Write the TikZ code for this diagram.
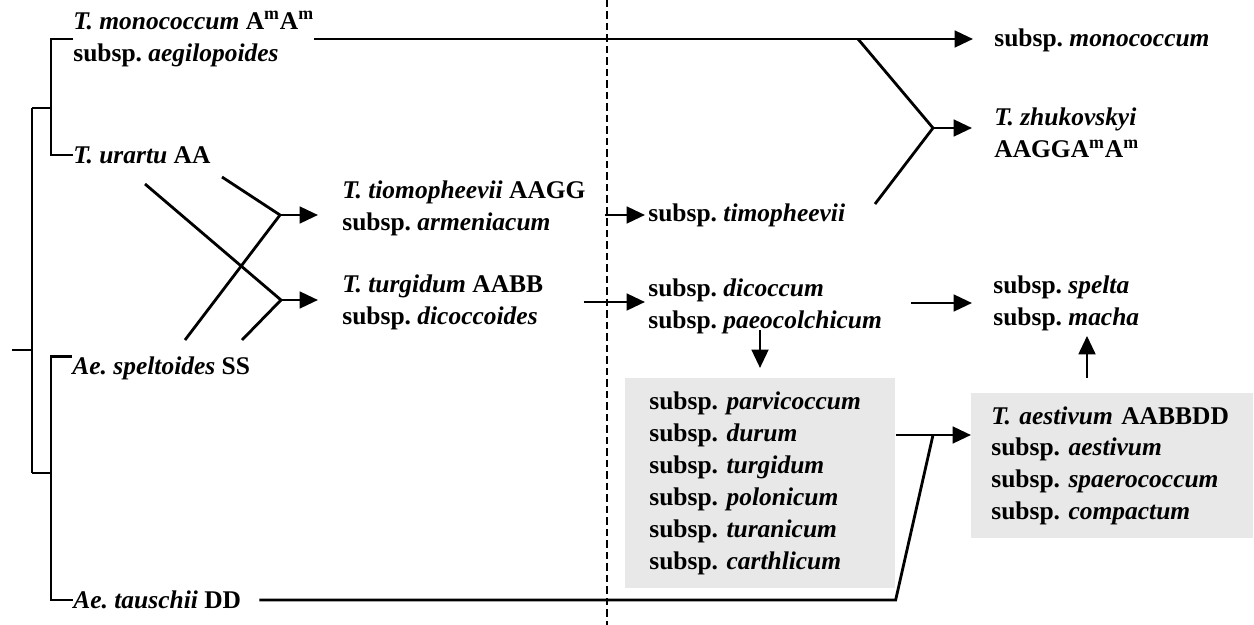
\documentclass[tikz,border=0pt]{standalone}
\usepackage{fontspec}
\setmainfont{Liberation Serif}
\usetikzlibrary{arrows.meta}
\tikzset{
  lbl/.style={anchor=west,inner sep=0pt,align=left,font=\fontsize{14.5}{18.2}\selectfont\bfseries\frenchspacing},
  ln/.style={line width=1.6pt},
  arr/.style={line width=1.6pt,-{Triangle[length=10.5pt,width=9.5pt]}},
  greybox/.style={lbl,anchor=north west,fill=black!9,inner ysep=0pt},
  divider/.style={line width=1.2pt,dash pattern=on 0.15cm off 0.08cm}
}
\begin{document}
\begin{tikzpicture}[x=0.02cm,y=-0.02cm]
\useasboundingbox (0,0) rectangle (1254,625);
\draw[divider] (607,0) -- (607,625);
\node[lbl] (mono) at (73,39) {\textit{T. monococcum} A\textsuperscript{m}A\textsuperscript{m}\\subsp. \textit{aegilopoides}};
\node[lbl] (urartu) at (73,155) {\textit{T. urartu} AA};
\node[lbl] (spelt) at (72,368) {\textit{Ae. speltoides} SS};
\node[lbl] (tausch) at (73,600) {\textit{Ae. tauschii} DD};
\node[lbl] (timo) at (342,208) {\textit{T. tiomopheevii} AAGG\\subsp. \textit{armeniacum}};
\node[lbl] (turg) at (342,302) {\textit{T. turgidum} AABB\\subsp. \textit{dicoccoides}};
\node[lbl] (timsub) at (648,215) {subsp. \textit{timopheevii}};
\node[lbl] (dicoc) at (648,306) {subsp. \textit{dicoccum}\\subsp. \textit{paeocolchicum}};
\node[lbl] (monosub) at (994,40) {subsp. \textit{monococcum}};
\node[lbl] (zhuk) at (994,133) {\textit{T. zhukovskyi}\\AAGGA\textsuperscript{m}A\textsuperscript{m}};
\node[lbl] (spelta) at (993,303) {subsp. \textit{spelta}\\subsp. \textit{macha}};
\node[greybox,text width=4.44cm,inner xsep=0.48cm,minimum height=4.2cm] (durum) at (625,378)
  {subsp. \textit{parvicoccum}\\subsp. \textit{durum}\\subsp. \textit{turgidum}\\subsp. \textit{polonicum}\\subsp. \textit{turanicum}\\subsp. \textit{carthlicum}};
\node[greybox,text width=4.84cm,inner xsep=0.4cm,minimum height=2.9cm] (aest) at (971,393)
  {\textit{T. aestivum} AABBDD\\subsp. \textit{aestivum}\\subsp. \textit{spaerococcum}\\subsp. \textit{compactum}};
\coordinate (root) at (12,350);
\coordinate (ua) at (51,108);
\coordinate (sd) at (51,473);
\draw[ln] (root) -- (32,350);
\draw[ln] (32,108) -- (32,473);
\draw[ln] (32,108) -- (ua);
\draw[ln] (32,473) -- (sd);
\draw[ln] (mono.west) -| (ua) |- (urartu.west);
\draw[ln] (spelt.north west) -| (sd) |- (tausch.west);
\coordinate (jt) at (280,215);
\coordinate (jd) at (281,300);
\coordinate (u1) at (145,184);
\coordinate (u2) at (222,177);
\coordinate (s1) at (185,340);
\coordinate (s2) at (242,340);
\draw[ln] (u1) -- (jd);
\draw[ln] (u2) -- (jt);
\draw[ln] (s1) -- (jt);
\draw[ln] (s2) -- (jd);
\draw[arr,shorten >=0.48cm] (jt) -- (jt -| timo.west);
\draw[arr,shorten >=0.48cm] (jd) -- (jd -| turg.west);
\draw[arr,shorten >=0.42cm] (mono.east) -- (mono.east -| monosub.west);
\coordinate (br) at (858,39);
\coordinate (jz) at (933,128);
\coordinate (zl) at (875,204);
\draw[ln] (br) -- (jz) -- (zl);
\draw[arr,shorten >=0.44cm] (jz) -- (jz -| zhuk.west);
\draw[arr,shorten >=0.06cm] ([xshift=0.38cm]timo.east |- timsub.west) -- (timsub.west);
\draw[arr,shorten <=0.8cm,shorten >=0.06cm] (turg.east) -- (turg.east -| dicoc.west);
\draw[arr,shorten <=0.58cm,shorten >=0.42cm] (dicoc.east |- spelta.west) -- (spelta.west);
\coordinate (dt) at (760,330);
\draw[arr,shorten >=0.2cm] (dt) -- (dt |- durum.north);
\coordinate (au) at (1087,378);
\draw[arr,shorten >=0.1cm] (au) -- (au |- spelta.south);
\coordinate (jb) at (933,435);
\draw[arr] (durum.east |- jb) -- (jb -| aest.west);
\draw[ln] ([xshift=0.36cm]tausch.east) -- (tausch.east -| durum.east) -- (jb);
\end{tikzpicture}
\end{document}
